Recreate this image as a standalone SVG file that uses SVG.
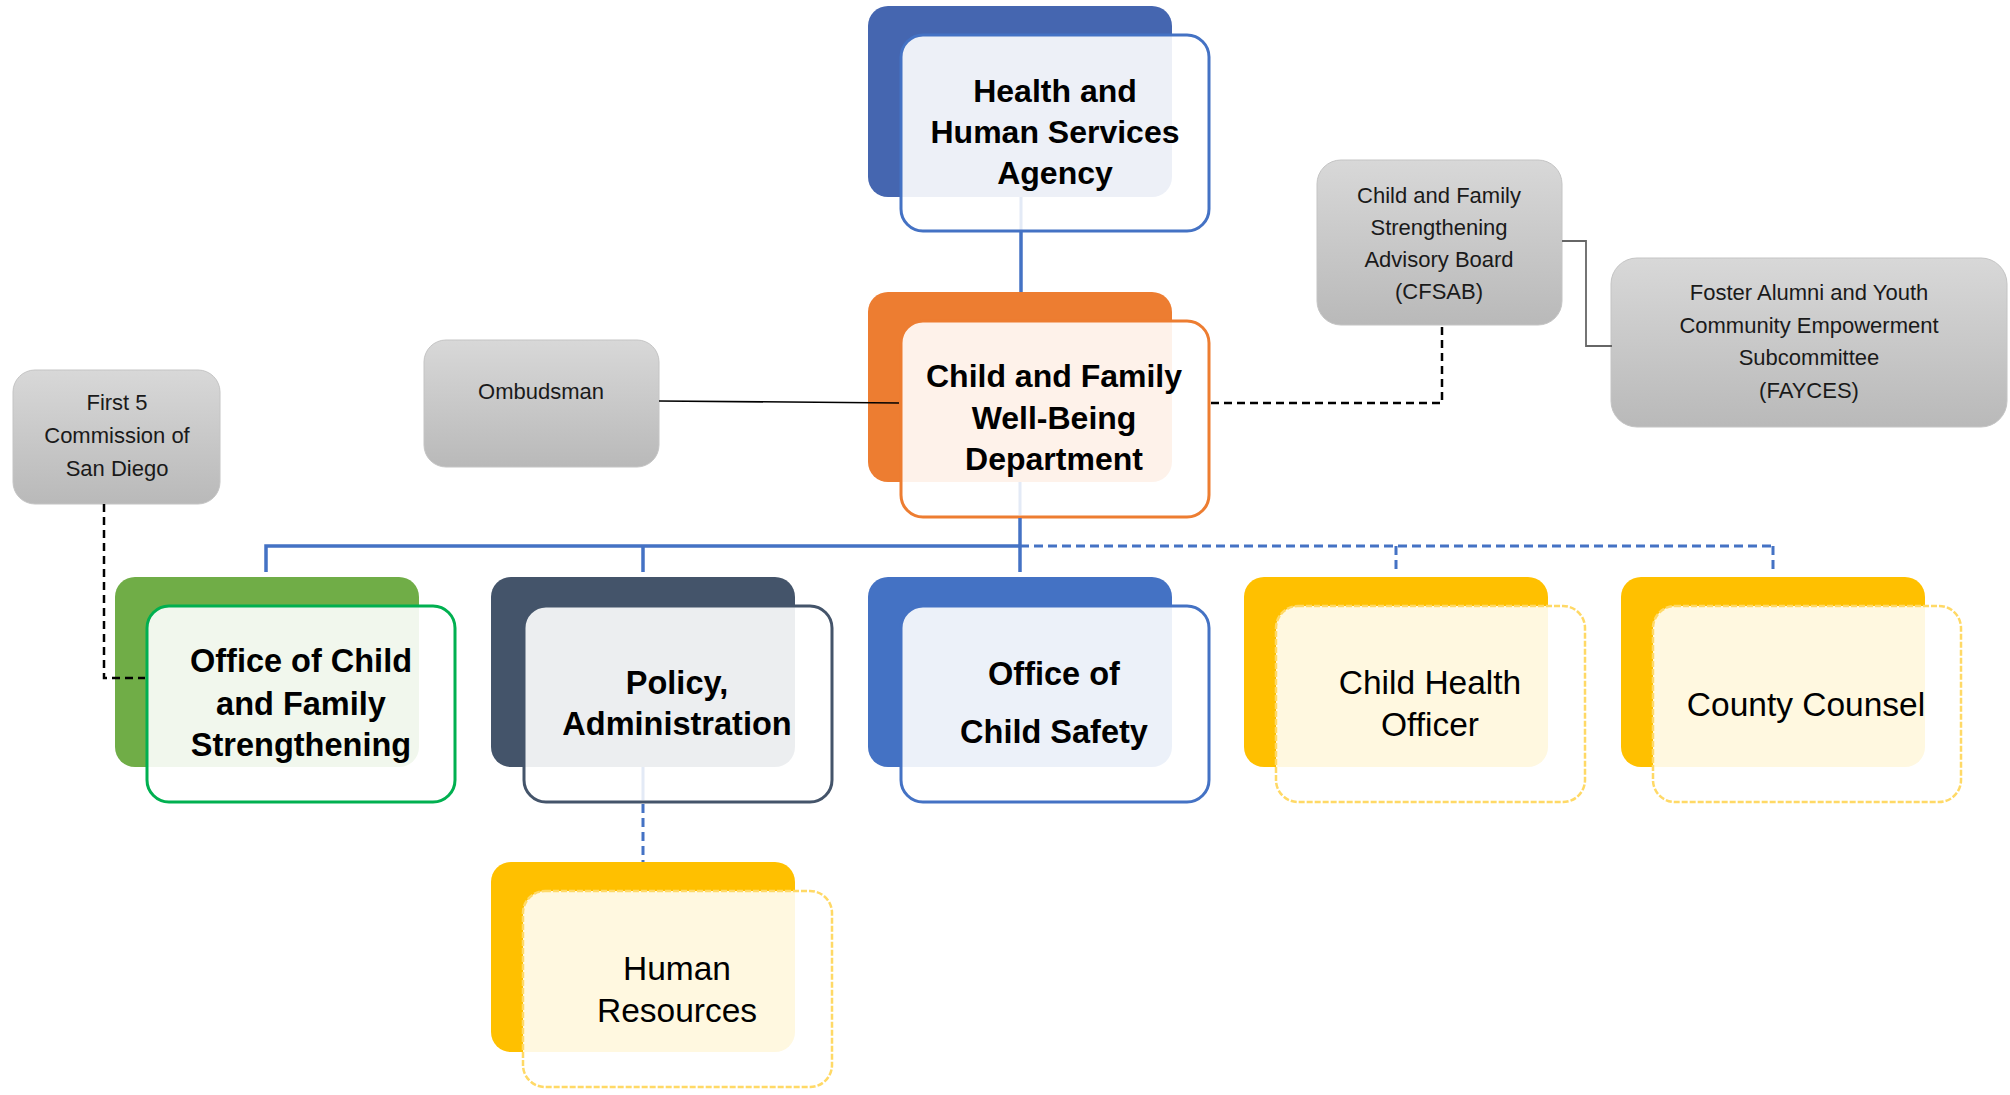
<svg xmlns="http://www.w3.org/2000/svg" width="2010" height="1095" viewBox="0 0 2010 1095">
<defs>
<linearGradient id="grey" x1="0" y1="0" x2="0" y2="1">
<stop offset="0" stop-color="#d8d8d8"/>
<stop offset="1" stop-color="#b9b9b9"/>
</linearGradient>
<style>
.back{stroke:none}
.front{fill:#ffffff;fill-opacity:0.9;stroke-width:3}
.gbox{fill:url(#grey);stroke:#c4c4c4;stroke-width:1}
.bold{font-family:"Liberation Sans",Arial,sans-serif;font-weight:bold;fill:#000;text-anchor:middle}
.reg{font-family:"Liberation Sans",Arial,sans-serif;fill:#000;text-anchor:middle}
.gt{font-family:"Liberation Sans",Arial,sans-serif;font-size:22px;fill:#1a1a1a;text-anchor:middle}
.solid{stroke:#4472C4;stroke-width:3.5;fill:none}
.faint{stroke:#4472C4;stroke-width:3;fill:none;stroke-opacity:0.15}
.bdash{stroke:#4472C4;stroke-width:3;fill:none;stroke-dasharray:9 5}
.kdash{stroke:#000;stroke-width:2.5;fill:none;stroke-dasharray:8 5}
.thin{stroke:#000;stroke-width:1.5;fill:none}
.grey{stroke:#666;stroke-width:1.8;fill:none}
.ydash{fill:#ffffff;fill-opacity:0.88;stroke:#FFD966;stroke-width:2.5;stroke-dasharray:6 2}
</style>
</defs>

<g id="node-hhsa">
<rect class="back" x="868" y="6" width="304" height="191" rx="20" fill="#4566B0"/>
<rect class="front" x="901" y="35" width="308" height="196" rx="22" stroke="#4472C4"/>
<text class="bold" font-size="32" x="1055" y="102">Health and</text>
<text class="bold" font-size="32" x="1055" y="143">Human Services</text>
<text class="bold" font-size="32" x="1055" y="184">Agency</text>
</g>

<g id="node-cfwb">
<rect class="back" x="868" y="292" width="304" height="190" rx="20" fill="#ED7D31"/>
<rect class="front" x="901" y="321" width="308" height="196" rx="22" stroke="#ED7D31"/>
<text class="bold" font-size="32" x="1054" y="387">Child and Family</text>
<text class="bold" font-size="32" x="1054" y="429">Well-Being</text>
<text class="bold" font-size="32" x="1054" y="470">Department</text>
</g>

<g id="node-ombudsman">
<rect class="gbox" x="424" y="340" width="235" height="127" rx="22"/>
<text class="gt" x="541" y="399">Ombudsman</text>
</g>

<g id="node-first5">
<rect class="gbox" x="13" y="370" width="207" height="134" rx="22"/>
<text class="gt" x="117" y="410">First 5</text>
<text class="gt" x="117" y="443">Commission of</text>
<text class="gt" x="117" y="476">San Diego</text>
</g>

<g id="node-cfsab">
<rect class="gbox" x="1317" y="160" width="245" height="165" rx="24"/>
<text class="gt" x="1439" y="203">Child and Family</text>
<text class="gt" x="1439" y="235">Strengthening</text>
<text class="gt" x="1439" y="267">Advisory Board</text>
<text class="gt" x="1439" y="299">(CFSAB)</text>
</g>

<g id="node-fayces">
<rect class="gbox" x="1611" y="258" width="396" height="169" rx="26"/>
<text class="gt" x="1809" y="300">Foster Alumni and Youth</text>
<text class="gt" x="1809" y="333">Community Empowerment</text>
<text class="gt" x="1809" y="365">Subcommittee</text>
<text class="gt" x="1809" y="398">(FAYCES)</text>
</g>

<g id="node-ocfs">
<rect class="back" x="115" y="577" width="304" height="190" rx="20" fill="#70AD47"/>
<rect class="front" x="147" y="606" width="308" height="196" rx="22" stroke="#00B050"/>
<text class="bold" font-size="32.5" x="301" y="672">Office of Child</text>
<text class="bold" font-size="32.5" x="301" y="715">and Family</text>
<text class="bold" font-size="32.5" x="301" y="756">Strengthening</text>
</g>

<g id="node-policy">
<rect class="back" x="491" y="577" width="304" height="190" rx="20" fill="#44546A"/>
<rect class="front" x="524" y="606" width="308" height="196" rx="22" stroke="#44546A"/>
<text class="bold" font-size="32.5" x="677" y="694">Policy,</text>
<text class="bold" font-size="32.5" x="677" y="735">Administration</text>
</g>

<g id="node-ocs">
<rect class="back" x="868" y="577" width="304" height="190" rx="20" fill="#4472C4"/>
<rect class="front" x="901" y="606" width="308" height="196" rx="22" stroke="#4472C4"/>
<text class="bold" font-size="32.5" x="1054" y="685">Office of</text>
<text class="bold" font-size="32.5" x="1054" y="743">Child Safety</text>
</g>

<g id="node-cho">
<rect class="back" x="1244" y="577" width="304" height="190" rx="20" fill="#FFC000"/>
<rect class="ydash" x="1276" y="606" width="309" height="196" rx="22"/>
<text class="reg" font-size="33.5" x="1430" y="694">Child Health</text>
<text class="reg" font-size="33.5" x="1430" y="736">Officer</text>
</g>

<g id="node-counsel">
<rect class="back" x="1621" y="577" width="304" height="190" rx="20" fill="#FFC000"/>
<rect class="ydash" x="1653" y="606" width="308" height="196" rx="22"/>
<text class="reg" font-size="33.5" x="1806" y="716">County Counsel</text>
</g>

<g id="node-hr">
<rect class="back" x="491" y="862" width="304" height="190" rx="20" fill="#FFC000"/>
<rect class="ydash" x="523" y="891" width="309" height="196" rx="22"/>
<text class="reg" font-size="33.5" x="677" y="980">Human</text>
<text class="reg" font-size="33.5" x="677" y="1022">Resources</text>
</g>

<g id="connectors">
<line class="faint" x1="1021" y1="197" x2="1021" y2="230"/>
<line class="solid" x1="1021" y1="232" x2="1021" y2="292"/>
<line class="faint" x1="1020" y1="482" x2="1020" y2="515"/>
<line class="solid" x1="1020" y1="518" x2="1020" y2="572"/>
<polyline class="solid" points="266,572 266,546 1020,546"/>
<line class="solid" x1="643" y1="546" x2="643" y2="572"/>
<line class="bdash" x1="1020" y1="546" x2="1773" y2="546"/>
<line class="bdash" x1="1396" y1="546" x2="1396" y2="572"/>
<line class="bdash" x1="1773" y1="546" x2="1773" y2="572"/>
<line class="faint" x1="643" y1="767" x2="643" y2="800"/>
<line class="bdash" x1="643" y1="804" x2="643" y2="862"/>
<line class="thin" x1="659" y1="401" x2="899" y2="403"/>
<polyline class="kdash" points="1211,403 1442,403 1442,325"/>
<polyline class="grey" points="1562,241 1586,241 1586,346 1612,346"/>
<polyline class="kdash" points="104,504 104,678 145,678"/>
</g>
</svg>
